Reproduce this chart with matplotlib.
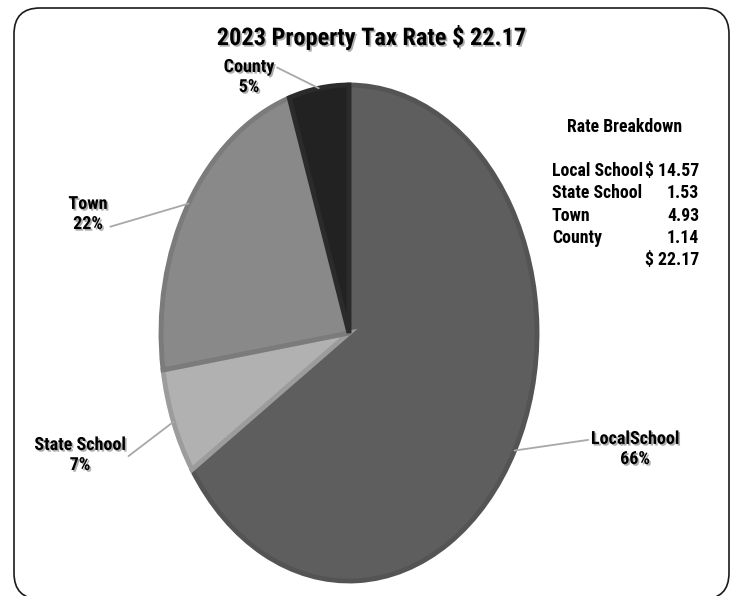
import matplotlib
matplotlib.use("Agg")
import matplotlib.pyplot as plt
import matplotlib.patheffects as pe
from matplotlib.patches import FancyBboxPatch
from matplotlib.transforms import IdentityTransform
import numpy as np

# data
slice_labels = ["LocalSchool", "State School", "Town", "County"]
table_labels = ["Local School", "State School", "Town", "County"]
rates = [14.57, 1.53, 4.93, 1.14]
total_rate = 22.17
title = "2023 Property Tax Rate $ 22.17"

fill_colors = ["#5e5e5e", "#b1b1b1", "#898989", "#222222"]
edge_colors = ["#545454", "#9c9c9c", "#7b7b7b", "#2b2b2b"]

# label centres in figure pixels (from top-left)
label_pos = [(635, 449), (80, 455), (88, 214), (249, 77)]
label_relpos = [(0.0, 0.75), (0.8, 0.05), (0.85, 0.1), (0.9, 0.85)]

W, H = 732, 596
plt.rcParams["font.family"] = ["Roboto Condensed", "PT Sans Narrow", "Liberation Sans", "DejaVu Sans"]

fig = plt.figure(figsize=(W / 100, H / 100), dpi=100)
fig.patch.set_facecolor("white")

# rounded frame
frame = FancyBboxPatch((14, -3), 715, 591, boxstyle="round,pad=0,rounding_size=26",
                       transform=IdentityTransform(), facecolor="none",
                       edgecolor="#1a1a1a", linewidth=1.2)
fig.patches.append(frame)

# pie axes: centre (349, 333), radii 188 x 248 px
cx, cy, rx, ry = 349, 333, 188, 248
ax = fig.add_axes([(cx - rx) / W, 1 - (cy + ry) / H, 2 * rx / W, 2 * ry / H])
wedges, _ = ax.pie(rates, startangle=90, counterclock=False, colors=fill_colors,
                   wedgeprops=dict(linewidth=3.5, joinstyle="miter"))
for w, ec in zip(wedges, edge_colors):
    w.set_edgecolor(ec)
ax.set_aspect("auto")
ax.set_xlim(-1, 1)
ax.set_ylim(-1, 1)
ax.axis("off")

shadow = [pe.withSimplePatchShadow(offset=(1.2, -1.2), shadow_rgbFace="#777777", alpha=0.6)]

total = sum(rates)
for w, name, val, (px, py), rp in zip(wedges, slice_labels, rates, label_pos, label_relpos):
    ang = np.deg2rad((w.theta1 + w.theta2) / 2)
    txt = ax.annotate(f"{name}\n{val / total * 100:.0f}%",
                      xy=(np.cos(ang), np.sin(ang)), xycoords="data",
                      xytext=(px, H - py), textcoords="figure pixels",
                      ha="center", va="center", fontsize=13, fontweight="bold",
                      linespacing=1.15, color="black",
                      arrowprops=dict(arrowstyle="-", color="#a8a8a8", lw=1.3,
                                      relpos=rp, shrinkA=0, shrinkB=0))
    txt.set_path_effects(shadow)

fig.text(371 / W, 1 - 38 / H, title, ha="center", va="center", fontsize=17.5,
         fontweight="bold", path_effects=shadow)

# rate breakdown table
fs = 12.8
fig.text(625 / W, 1 - 127 / H, "Rate Breakdown", ha="center", va="center",
         fontsize=fs, fontweight="bold")
row_y = [171, 193, 216, 238]
for i, (name, val) in enumerate(zip(table_labels, rates)):
    fig.text(552 / W, 1 - row_y[i] / H, name, ha="left", va="center",
             fontsize=fs, fontweight="bold")
    s = f"$ {val:.2f}" if i == 0 else f"{val:.2f}"
    fig.text(699 / W, 1 - row_y[i] / H, s, ha="right", va="center",
             fontsize=fs, fontweight="bold")
fig.text(699 / W, 1 - 260 / H, f"$ {total_rate:.2f}", ha="right", va="center",
         fontsize=fs, fontweight="bold")

fig.savefig("out.png", dpi=100)
